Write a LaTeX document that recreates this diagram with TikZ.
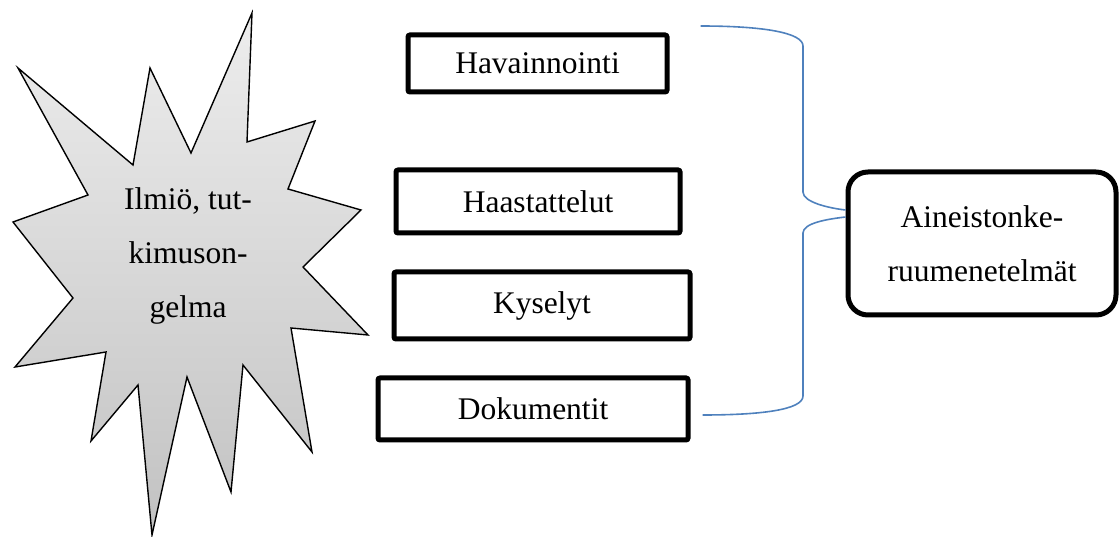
\documentclass[tikz,border=0pt]{standalone}
\usepackage{fontspec}
\setmainfont{Liberation Serif}
\definecolor{bracecol}{HTML}{4F81BD}
\tikzset{
  every node/.style={font=\fontsize{31.5}{54}\selectfont},
  method/.style={draw=black, line width=5pt, rounded corners=2pt, inner sep=0pt},
  result/.style={draw=black, line width=5pt, rounded corners=20pt, align=center, inner sep=0pt,
                 minimum width=268pt, minimum height=143pt},
  burst/.style={draw=black, line width=1.4pt, line join=miter},
  bracket/.style={draw=bracecol, line width=1.6pt}
}
\begin{document}
\begin{tikzpicture}[x=1pt, y=-1pt]
  \useasboundingbox (0,0) rectangle (1120,537);

  % explosion shape with vertical grey gradient
  \def\burstpath{(18,68) -- (133,165) -- (150,68) -- (191,153) -- (252,13) -- (247,142)
    -- (315,121) -- (288,189) -- (361,210) -- (303,267) -- (368,335) -- (291,328)
    -- (312,452) -- (243,365) -- (231,492) -- (187,377) -- (152,535) -- (138,385)
    -- (91,441) -- (106,352) -- (15,367) -- (73,298) -- (13,222) -- (88,195) -- cycle}
  \shade[top color=white!93!black, bottom color=white!76!black] \burstpath;
  \path[burst] \burstpath;
  \node[align=center, inner sep=0pt] (problem) at (188,256)
    {Ilmiö, tut-\\kimuson-\\gelma};

  % data collection methods
  \node[method, minimum width=259pt, minimum height=57pt] (hav) at (537.5,63.5) {Havainnointi};
  \node[method, minimum width=284pt, minimum height=63pt] (haa) at (538,201.5) {Haastattelut};
  \node[method, minimum width=296pt, minimum height=67pt] (kys) at (542,305.5) {Kyselyt};
  \node[method, minimum width=310pt, minimum height=62pt] (dok) at (533,409) {Dokumentit};

  \node[result] (aine) at (982,243.5) {Aineistonke-\\ruumenetelmät};

  % curly bracket gathering the methods
  \coordinate (btop) at ([xshift=31pt]hav.north east);
  \coordinate (bbot) at ([xshift=12pt]dok.south east);
  \coordinate (tipA) at ([yshift=33.5pt]aine.west);
  \coordinate (tipB) at ([yshift=26.5pt]aine.west);
  \draw[bracket] (btop |- 0,26) .. controls (765,26) and (803,33) .. (803,46)
    -- (803,192) .. controls (803,202) and (828,208) .. (tipA);
  \draw[bracket] (tipB) .. controls (828,219) and (803,223) .. (803,233)
    -- (803,396) .. controls (803,410) and (760,415) .. (bbot |- 0,415);
\end{tikzpicture}
\end{document}
